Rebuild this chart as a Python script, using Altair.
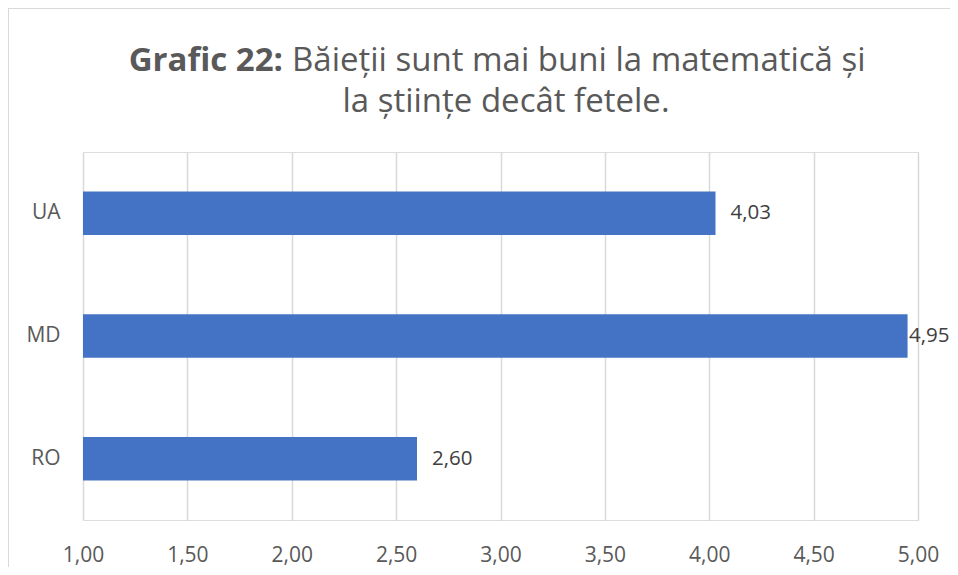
import altair as alt
import pandas as pd

categories = ["UA", "MD", "RO"]
values = [4.03, 4.95, 2.60]
tick_values = [1.0, 1.5, 2.0, 2.5, 3.0, 3.5, 4.0, 4.5, 5.0]
title_bold = "Grafic 22:"
title_line1 = "Băieții sunt mai buni la matematică și"
title_line2 = "la științe decât fetele."

FONT = "Open Sans"
df = pd.DataFrame({"cat": categories, "val": values})
df["lbl"] = [f"{v:.2f}".replace(".", ",") for v in values]

y_enc = alt.Y("cat:N", sort=categories, title=None,
              scale=alt.Scale(paddingInner=0.645, paddingOuter=0.3225),
              axis=alt.Axis(ticks=False, domain=False, labelPadding=23,
                            labelFont=FONT, labelFontSize=21, labelColor="#595959"))
x_enc = alt.X("val:Q", title=None,
              scale=alt.Scale(domain=[1, 5], nice=False, zero=False),
              axis=alt.Axis(values=tick_values, format=".2f",
                            labelExpr="replace(datum.label, '.', ',')",
                            ticks=False, domain=False, labelPadding=24,
                            labelFlush=False,
                            labelFont=FONT, labelFontSize=21, labelColor="#595959",
                            grid=True, gridColor="#d9d9d9", gridWidth=1.5))

base = alt.Chart(df)
bars = base.mark_bar(color="#4472C4").encode(x=x_enc, x2=alt.datum(1.0), y=y_enc)
# keep the end label inside the chart's right edge (as the reference pushes it in)
labels = base.transform_calculate(lx="min(datum.val, 4.885)").mark_text(
    align="left", baseline="middle", dx=15, font=FONT,
    fontSize=20.5, color="#404040").encode(
    x="lx:Q", y=alt.Y("cat:N", sort=categories), text="lbl:N")

t_bold = alt.Chart(pd.DataFrame({"t": [title_bold]})).mark_text(
    align="right", baseline="alphabetic", font=FONT, fontSize=33,
    fontWeight="bold", color="#595959").encode(
    text="t:N", x=alt.value(200), y=alt.value(-81))
t_l1 = alt.Chart(pd.DataFrame({"t": [title_line1]})).mark_text(
    align="left", baseline="alphabetic", font=FONT, fontSize=33,
    color="#595959").encode(text="t:N", x=alt.value(209), y=alt.value(-81))
t_l2 = alt.Chart(pd.DataFrame({"t": [title_line2]})).mark_text(
    align="center", baseline="alphabetic", font=FONT, fontSize=33,
    color="#595959").encode(text="t:N", x=alt.value(423), y=alt.value(-40))

border_top = alt.Chart(pd.DataFrame({"b": [0]})).mark_rule(
    color="#d9d9d9", strokeWidth=1).encode(
    x=alt.value(-75), x2=alt.value(870), y=alt.value(-143.5))
border_left = alt.Chart(pd.DataFrame({"b": [0]})).mark_rule(
    color="#d9d9d9", strokeWidth=1).encode(
    x=alt.value(-74.5), y=alt.value(-144), y2=alt.value(423))

chart = alt.layer(border_top, border_left, bars, labels, t_bold, t_l1, t_l2).properties(
    width=835, height=368,
    autosize=alt.AutoSizeParams(type="none"),
    padding={"left": 75, "top": 144, "right": 32, "bottom": 47},
).configure_view(stroke=None).configure(background="white")

chart.save("out.html", embed_options={"renderer": "svg", "actions": False})
